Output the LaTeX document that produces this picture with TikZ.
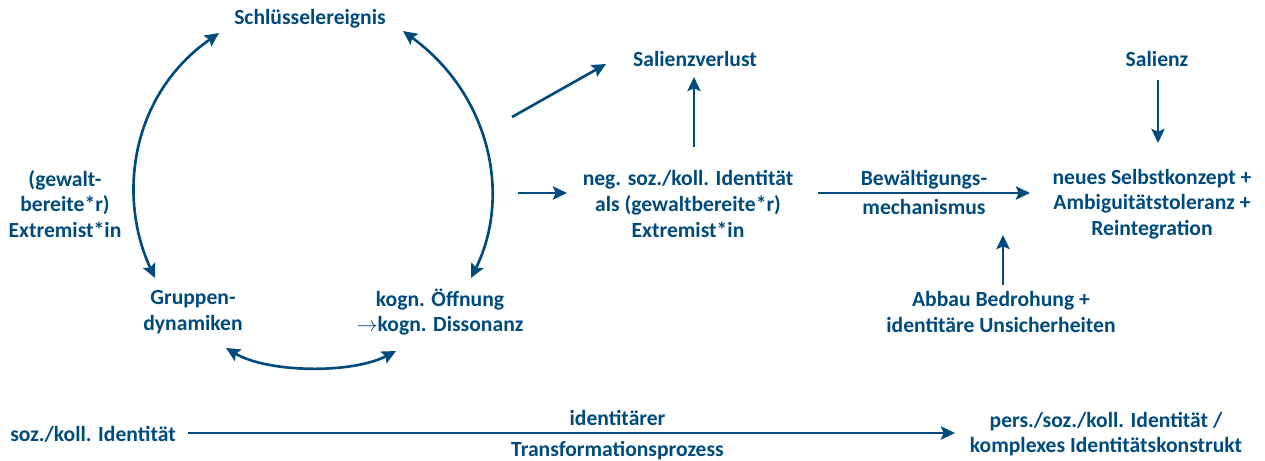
\documentclass[tikz,border=0pt]{standalone}
\usepackage{fontspec}
\setmainfont{Carlito}
\usetikzlibrary{calc,arrows.meta}
\definecolor{bund}{RGB}{0,75,125}
\begin{document}
\begin{tikzpicture}[x=0.02cm,y=-0.02cm,
	lbl/.style={text=bund,font=\bfseries\fontsize{12.3}{14.6}\selectfont,align=center,inner sep=0pt},
	arr/.style={draw=bund,line width=1.5pt,-{Stealth[length=8pt,width=7.5pt,inset=1.5pt]}},
	darr/.style={arr,{Stealth[length=8pt,width=7.5pt,inset=1.5pt]}-{Stealth[length=8pt,width=7.5pt,inset=1.5pt]}}]
	\useasboundingbox (0,0) rectangle (1265,460);
	% Kreislauf
	\node[lbl] (schl) at (310,19) {Schlüsselereignis};
	\node[lbl] (gew) at (65,204) {(gewalt-\\bereite*r)\\Extremist*in};
	\node[lbl] (grup) at (193,312) {Gruppen-\\dynamiken};
	\node[lbl] (kogn) at (440,312) {kogn. Öffnung\\$\rightarrow$kogn. Dissonanz};
	\draw[darr] ($(grup)+(-38,-34)$) .. controls (118,199) and (129,96) .. ($(schl)+(-91,14)$);
	\draw[darr] ($(schl)+(93,12)$) .. controls (492,96) and (511,198) .. ($(kogn)+(31,-34)$);
	\draw[darr] ($(grup)+(33,36)$) .. controls (268,373) and (352,374) .. ($(kogn)+(-44,39)$);
	% rechte Seite
	\node[lbl] (salv) at (695,59) {Salienzverlust};
	\node[lbl] (neg) at (688,204) {neg. soz./koll. Identität\\als (gewaltbereite*r)\\Extremist*in};
	\node[lbl] (sal) at (1157,59) {Salienz};
	\node[lbl] (neu) at (1152,204) {neues Selbstkonzept +\\Ambiguitätstoleranz +\\Reintegration};
	\node[lbl] (abbau) at (1001,312) {Abbau Bedrohung +\\identitäre Unsicherheiten};
	\coordinate (diag) at (512,117);
	\coordinate (zuneg) at (518,193);
	\draw[arr] (diag) -- ($(salv)+(-89,5)$);
	\draw[arr] (zuneg) -- ($(neg)+(-121,-11)$);
	\draw[arr] ($(neg)+(6,-57)$) -- ($(salv)+(-1,18)$);
	\draw[arr] ($(neg)+(130,-11)$) -- node[lbl,above,inner sep=1.5pt]{Bewältigungs-} node[lbl,below,inner sep=3pt]{mechanismus} ($(neu)+(-122,-11)$);
	\draw[arr] ($(sal)+(1,21)$) -- ($(neu)+(6,-61)$);
	\draw[arr] ($(abbau)+(2,-27)$) -- ($(abbau)+(2,-77)$);
	% unten
	\node[lbl] (soz) at (93,434) {soz./koll. Identität};
	\node[lbl] (pers) at (1106,434) {pers./soz./koll. Identität /\\komplexes Identitätskonstrukt};
	\draw[arr] ($(soz)+(95,-1)$) -- node[pos=0.56,lbl,above,inner sep=3.5pt]{identitärer} node[pos=0.56,lbl,below,inner sep=4pt]{Transformationsprozess} ($(pers)+(-151,-1)$);
\end{tikzpicture}
\end{document}
